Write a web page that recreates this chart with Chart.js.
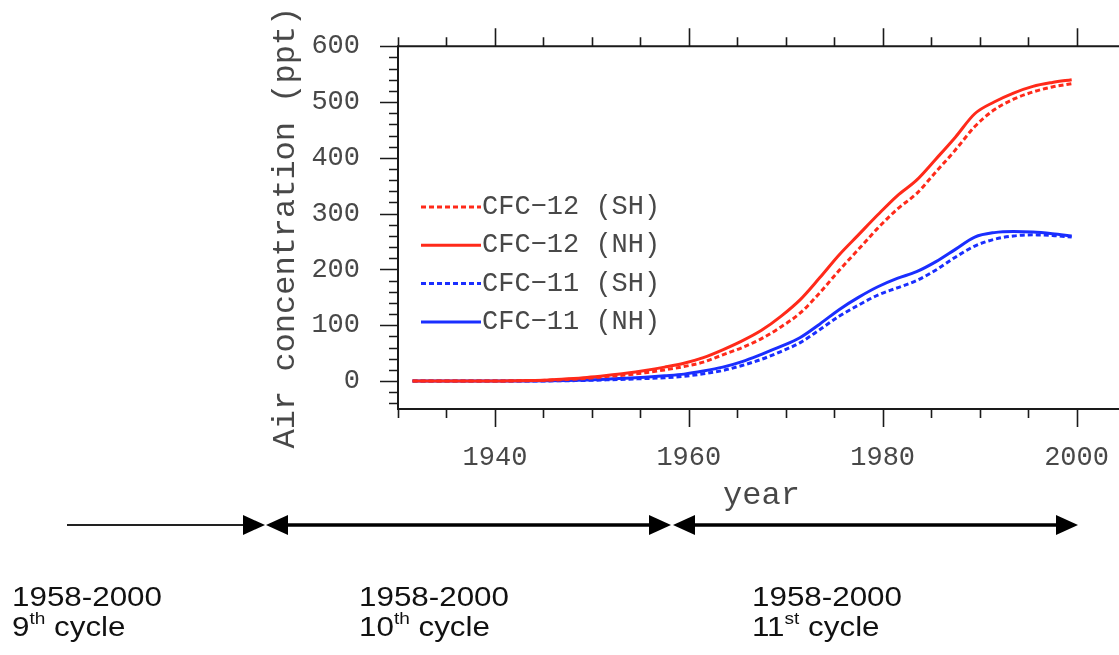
<!DOCTYPE html>
<html>
<head>
<meta charset="utf-8">
<title>CFC air concentration</title>
<script src="https://cdn.jsdelivr.net/npm/chart.js@4.4.1/dist/chart.umd.min.js"></script>
<style>
  html, body { margin: 0; padding: 0; background: #fff; }
  body { width: 1119px; height: 655px; overflow: hidden; position: relative; }
  #chart { position: absolute; left: 0; top: 0; }
  #cycles { position: absolute; left: 0; top: 0; }
  .cyc { position: absolute; font-family: "Liberation Sans", Arial, sans-serif; font-size: 28px;
         line-height: 28px; color: #111; white-space: nowrap; transform: scaleX(1.12); transform-origin: left; }
  .cyc span { font-size: 17px; position: relative; top: -12px; }
</style>
</head>
<body>
<canvas id="chart" width="1180" height="655"></canvas>

<svg id="cycles" width="1119" height="655">
  <!-- spin-up cycles on the time line -->
  <line x1="67" y1="525" x2="246" y2="525" stroke="#222" stroke-width="2"/>
  <polygon points="243,515 265,525 243,535" fill="#000"/>
  <polygon points="266,525 288,515 288,535" fill="#000"/>
  <line x1="286" y1="525" x2="651" y2="525" stroke="#000" stroke-width="3.5"/>
  <polygon points="671,525 649,515 649,535" fill="#000"/>
  <polygon points="673,525 695,515 695,535" fill="#000"/>
  <line x1="693" y1="525" x2="1059" y2="525" stroke="#000" stroke-width="3.5"/>
  <polygon points="1078,525 1056,515 1056,535" fill="#000"/>
</svg>

<div class="cyc" style="left:12px; top:583px;">1958-2000</div>
<div class="cyc" style="left:12px; top:613px;">9<span>th</span> cycle</div>
<div class="cyc" style="left:359px; top:583px;">1958-2000</div>
<div class="cyc" style="left:359px; top:613px;">10<span>th</span> cycle</div>
<div class="cyc" style="left:752px; top:583px;">1958-2000</div>
<div class="cyc" style="left:752px; top:613px;">11<span>st</span> cycle</div>

<script>
// mid-year sample points
const years = [1931.5, 1933.5, 1935.5, 1937.5, 1939.5, 1941.5, 1943.5, 1945.5, 1947.5, 1949.5,
               1951.5, 1953.5, 1955.5, 1957.5, 1959.5, 1961.5, 1963.5, 1965.5, 1967.5, 1969.5,
               1971.5, 1973.5, 1975.5, 1977.5, 1979.5, 1981.5, 1983.5, 1985.5, 1987.5, 1989.5,
               1991.5, 1993.5, 1995.5, 1997.5, 1999.5];

// air concentration, ppt
const cfc12SH = [0, 0, 0, 0, 0, 0.3, 0.7, 1.5, 3, 5,
                 8, 11, 15, 20, 26, 34, 47, 60, 76, 97,
                 122, 158, 198, 236, 274, 308, 336, 375, 414, 456,
                 486, 505, 518, 527, 533];
const cfc12NH = [0, 0, 0, 0, 0, 0.5, 1, 2, 4, 6.5,
                 10, 14, 19, 25, 32, 42, 56, 72, 91, 116,
                 146, 185, 226, 262, 298, 332, 360, 398, 437, 479,
                 500, 516, 528, 535, 540];
const cfc11SH = [0, 0, 0, 0, 0, 0, 0.1, 0.3, 0.7, 1.3,
                 2.2, 3.3, 4.5, 6, 8.5, 13, 19, 28, 39, 53,
                 69, 92, 116, 136, 154, 167, 180, 199, 222, 242,
                 254, 260, 262, 261, 258];
const cfc11NH = [0, 0, 0, 0, 0, 0, 0.2, 0.5, 1, 2,
                 3.5, 5, 7, 9.5, 12.5, 18, 25, 35, 48, 62,
                 78, 102, 128, 150, 169, 184, 196, 214, 236, 258,
                 266, 268, 267, 264, 260];

const seriesNames = ["CFC\u221212 (SH)", "CFC\u221212 (NH)", "CFC\u221211 (SH)", "CFC\u221211 (NH)"];
const yearTicks = [1940, 1960, 1980, 2000];
const concTicks = [0, 100, 200, 300, 400, 500, 600];

const RED = "#ff2a1a";
const BLUE = "#1a2eff";
const TXT = "#484848";
const NCL_FONT = "'Liberation Mono', 'DejaVu Sans Mono', monospace";

function pts(vals) {
  return vals.map((v, i) => ({ x: years[i], y: v }));
}

function line(label, vals, color, dashed) {
  return {
    label: label,
    data: pts(vals),
    borderColor: color,
    borderWidth: 3,
    borderDash: dashed ? [5, 3] : [],
    pointRadius: 0,
    cubicInterpolationMode: "monotone",
    fill: false
  };
}

// box around the plot with outward major/minor ticks
const frameTicks = {
  id: "frameTicks",
  beforeDatasetsDraw(chart) {
    const { ctx, chartArea: a, scales: { x, y } } = chart;
    ctx.save();
    ctx.strokeStyle = "#1a1a1a";
    ctx.lineWidth = 2;
    ctx.beginPath();
    ctx.moveTo(a.right + 10, a.top);
    ctx.lineTo(a.left, a.top);
    ctx.lineTo(a.left, a.bottom);
    ctx.lineTo(a.right + 10, a.bottom);
    ctx.stroke();

    ctx.lineWidth = 1.6;
    ctx.beginPath();
    for (let yr = 1930; yr <= 2005; yr += 5) {
      const px = Math.round(x.getPixelForValue(yr)) + 0.5;
      const len = yearTicks.includes(yr) ? 18 : 9;
      ctx.moveTo(px, a.top); ctx.lineTo(px, a.top - len);
      ctx.moveTo(px, a.bottom); ctx.lineTo(px, a.bottom + len);
    }
    for (let v = -40; v <= 600; v += 20) {
      const py = Math.round(y.getPixelForValue(v)) + 0.5;
      const len = v % 100 === 0 ? 18 : 9;
      ctx.moveTo(a.left, py); ctx.lineTo(a.left - len, py);
    }
    ctx.stroke();
    ctx.restore();
  }
};

// legend drawn inside the plot, left side
const insideLegend = {
  id: "insideLegend",
  afterDatasetsDraw(chart) {
    const { ctx } = chart;
    ctx.save();
    ctx.font = "27px " + NCL_FONT;
    ctx.fillStyle = TXT;
    ctx.textBaseline = "middle";
    chart.data.datasets.forEach((ds, i) => {
      const yy = 207 + i * 38.3;
      ctx.strokeStyle = ds.borderColor;
      ctx.lineWidth = 3;
      ctx.setLineDash(ds.borderDash);
      ctx.beginPath();
      ctx.moveTo(421, yy);
      ctx.lineTo(481, yy);
      ctx.stroke();
      ctx.setLineDash([]);
      ctx.fillText(ds.label, 482, yy);
    });
    ctx.restore();
  }
};

new Chart(document.getElementById("chart"), {
  type: "line",
  data: {
    datasets: [
      line(seriesNames[0], cfc12SH, RED, true),
      line(seriesNames[1], cfc12NH, RED, false),
      line(seriesNames[2], cfc11SH, BLUE, true),
      line(seriesNames[3], cfc11NH, BLUE, false)
    ]
  },
  options: {
    responsive: false,
    animation: false,
    devicePixelRatio: 1,
    layout: { padding: { top: 45, right: 55, left: 0, bottom: 0 } },
    plugins: { legend: { display: false }, tooltip: { enabled: false } },
    scales: {
      x: {
        type: "linear",
        min: 1930,
        max: 2005,
        grid: { display: false },
        border: { display: false },
        afterBuildTicks: s => { s.ticks = yearTicks.map(v => ({ value: v })); },
        afterFit: s => { s.height = 246; },
        ticks: {
          color: TXT, padding: 25, maxRotation: 0, autoSkip: false,
          font: { family: NCL_FONT, size: 27 },
          callback: v => String(v)
        },
        title: {
          display: true, text: "year", color: TXT,
          font: { family: NCL_FONT, size: 32 },
          padding: { top: 0, bottom: 140 }
        }
      },
      y: {
        min: -50,
        max: 600,
        grid: { display: false },
        border: { display: false },
        afterBuildTicks: s => { s.ticks = concTicks.map(v => ({ value: v })); },
        afterFit: s => { s.width = 398; },
        ticks: {
          color: TXT, padding: 30,
          font: { family: NCL_FONT, size: 27 }
        },
        title: {
          display: true, text: "Air concentration (ppt)", color: TXT,
          font: { family: NCL_FONT, size: 32 },
          padding: { top: 266, bottom: 0 }
        }
      }
    }
  },
  plugins: [frameTicks, insideLegend]
});
</script>
</body>
</html>
